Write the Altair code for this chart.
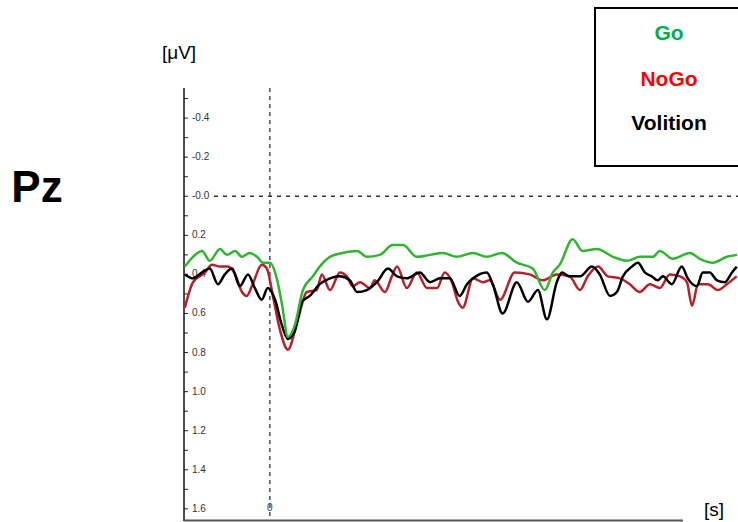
import altair as alt
import pandas as pd

series = ["Go", "NoGo", "Volition"]
line_colors = ["#2fb52f", "#b8202a", "#000000"]
legend_colors = ["#00b050", "#ff0000", "#000000"]

# time in ms, amplitude in microvolts (axis inverted: negative up)
go_t = [-198, -179, -158, -140, -116, -100, -81, -65, -47, -30,
        -16, 0, 16, 28, 42, 58, 77, 100, 116, 140,
        170, 203, 226, 256, 286, 310, 342, 373, 403, 435,
        473, 505, 540, 575, 612, 640, 659, 675, 705, 728,
        761, 799, 831, 862, 892, 908, 938, 978, 1001, 1031,
        1064, 1088]
go_v = [0.36, 0.31, 0.28, 0.33, 0.27, 0.30, 0.28, 0.31, 0.29, 0.31,
        0.34, 0.34, 0.42, 0.55, 0.72, 0.66, 0.48, 0.41, 0.36, 0.31,
        0.29, 0.28, 0.31, 0.30, 0.25, 0.25, 0.31, 0.30, 0.29, 0.31,
        0.29, 0.31, 0.29, 0.34, 0.37, 0.48, 0.39, 0.35, 0.22, 0.28,
        0.27, 0.31, 0.33, 0.31, 0.31, 0.28, 0.32, 0.29, 0.32, 0.34,
        0.31, 0.30]

nogo_t = [-198, -179, -151, -135, -116, -98, -81, -65, -54, -40,
          -19, -7, 7, 23, 42, 63, 86, 109, 121, 140,
          163, 179, 193, 210, 233, 244, 268, 284, 296, 319,
          342, 366, 389, 407, 424, 438, 449, 473, 496, 512,
          536, 570, 605, 636, 668, 698, 722, 740, 764, 787,
          815, 838, 861, 885, 908, 931, 955, 971, 983, 997,
          1020, 1043, 1064, 1087]
nogo_v = [0.57, 0.44, 0.39, 0.35, 0.36, 0.36, 0.40, 0.49, 0.51, 0.45,
          0.35, 0.37, 0.51, 0.68, 0.785, 0.65, 0.49, 0.48, 0.40, 0.48,
          0.39, 0.41, 0.46, 0.44, 0.47, 0.43, 0.49, 0.41, 0.36, 0.47,
          0.39, 0.47, 0.47, 0.39, 0.44, 0.54, 0.57, 0.42, 0.44, 0.43,
          0.53, 0.39, 0.40, 0.43, 0.40, 0.41, 0.48, 0.41, 0.36, 0.41,
          0.42, 0.45, 0.49, 0.45, 0.47, 0.40, 0.41, 0.44, 0.56, 0.45,
          0.45, 0.48, 0.45, 0.41]

vol_t = [-198, -179, -158, -140, -121, -105, -88, -70, -51, -35,
         -19, -5, 12, 28, 42, 58, 75, 93, 116, 140,
         163, 186, 203, 226, 249, 275, 296, 319, 349, 373,
         396, 419, 442, 459, 473, 505, 519, 542, 575, 601,
         624, 645, 668, 680, 698, 722, 750, 768, 792, 808,
         822, 843, 857, 873, 889, 903, 915, 936, 959, 973,
         994, 1008, 1024, 1041, 1059, 1076, 1087]
vol_v = [0.40, 0.42, 0.39, 0.37, 0.45, 0.40, 0.37, 0.46, 0.40, 0.47,
         0.53, 0.47, 0.53, 0.66, 0.73, 0.69, 0.54, 0.51, 0.45, 0.42,
         0.41, 0.43, 0.49, 0.48, 0.44, 0.37, 0.41, 0.42, 0.39, 0.44,
         0.42, 0.42, 0.51, 0.45, 0.42, 0.39, 0.45, 0.60, 0.44, 0.54,
         0.48, 0.63, 0.44, 0.39, 0.41, 0.41, 0.36, 0.40, 0.51, 0.49,
         0.41, 0.36, 0.34, 0.39, 0.41, 0.43, 0.41, 0.45, 0.36, 0.42,
         0.46, 0.39, 0.39, 0.43, 0.44, 0.39, 0.36]

tick_vals = [-0.5, -0.4, -0.3, -0.2, -0.1, 0.0, 0.1, 0.2, 0.3, 0.4, 0.5, 0.6,
             0.7, 0.8, 0.9, 1.0, 1.1, 1.2, 1.3, 1.4, 1.5, 1.6]
label_vals = [-0.4, -0.2, 0.0, 0.2, 0.4, 0.6, 0.8, 1.0, 1.2, 1.4, 1.6]
label_texts = ["-0.4", "-0.2", "-0.0", "0.2", "0.4", "0.6", "0.8", "1.0", "1.2", "1.4", "1.6"]

rows = []
for name, ts, vs in [("NoGo", nogo_t, nogo_v), ("Volition", vol_t, vol_v), ("Go", go_t, go_v)]:
    for t, v in zip(ts, vs):
        rows.append({"series": name, "t": t, "v": v})
df = pd.DataFrame(rows)

W, H = 554, 433
xs = alt.Scale(domain=[-200, 1090], nice=False, zero=False)
ys = alt.Scale(domain=[-0.554, 1.662], reverse=True, nice=False, zero=False)
one = pd.DataFrame({"t": [0], "v": [0.0]})

lines = alt.Chart(df).mark_line(strokeWidth=2.5, interpolate="monotone").encode(
    x=alt.X("t:Q", scale=xs, axis=None),
    y=alt.Y("v:Q", scale=ys, axis=None),
    color=alt.Color("series:N", scale=alt.Scale(domain=series, range=line_colors), legend=None),
    order=alt.Order("t:Q"),
)

ticks = alt.Chart(pd.DataFrame({"v": tick_vals})).mark_rule(color="#222", strokeWidth=1).encode(
    y=alt.Y("v:Q", scale=ys, axis=None), x=alt.value(0), x2=alt.value(4)
)
tick_labels = alt.Chart(pd.DataFrame({"v": label_vals, "label": label_texts})).mark_text(
    align="left", baseline="middle", fontSize=10, font="Liberation Sans Narrow, Liberation Sans",
    color="#333"
).encode(y=alt.Y("v:Q", scale=ys, axis=None), x=alt.value(8), text="label:N")

zero_h = alt.Chart(one).mark_rule(color="#333", strokeWidth=1.3, strokeDash=[4, 5]).encode(
    y=alt.Y("v:Q", scale=ys, axis=None), x=alt.value(30), x2=alt.value(W)
)
zero_v = alt.Chart(one).mark_rule(color="#333", strokeWidth=1.3, strokeDash=[4, 4]).encode(
    x=alt.X("t:Q", scale=xs, axis=None), y=alt.value(0), y2=alt.value(H)
)
y_axis_line = alt.Chart(one).mark_rule(color="#111", strokeWidth=1.5).encode(
    x=alt.value(0), y=alt.value(0), y2=alt.value(H)
)
x_axis_line = alt.Chart(one).mark_rule(color="#555", strokeWidth=2).encode(
    y=alt.value(H - 0.5), x=alt.value(0), x2=alt.value(499)
)
zero_label = alt.Chart(one).mark_text(fontSize=10, font="Liberation Sans", color="#333",
                                      baseline="middle").encode(
    x=alt.X("t:Q", scale=xs, axis=None), y=alt.value(420), text=alt.value("0")
)

pz = alt.Chart(one).mark_text(fontSize=44, fontWeight="bold", font="Liberation Sans",
                              align="center", baseline="alphabetic", color="#000").encode(
    x=alt.value(-147), y=alt.value(114), text=alt.value("Pz"))
uv = alt.Chart(one).mark_text(fontSize=19, font="Liberation Sans", align="center",
                              baseline="alphabetic", color="#000").encode(
    x=alt.value(-5), y=alt.value(-29), text=alt.value("[μV]"))
sec = alt.Chart(one).mark_text(fontSize=19, font="Liberation Sans", align="center",
                               baseline="alphabetic", color="#000").encode(
    x=alt.value(530), y=alt.value(428), text=alt.value("[s]"))

box = alt.Chart(one).mark_rect(fill="white", stroke="black", strokeWidth=2).encode(
    x=alt.value(411), x2=alt.value(575), y=alt.value(-80), y2=alt.value(78))
leg_y = [-48.5, -2.5, 41.5]
legend_texts = []
for name, col, yy in zip(series, legend_colors, leg_y):
    legend_texts.append(alt.Chart(one).mark_text(
        fontSize=21, fontWeight="bold", font="Liberation Sans", align="center",
        baseline="alphabetic", color=col).encode(
        x=alt.value(485), y=alt.value(yy), text=alt.value(name)))

chart = alt.layer(
    zero_h, zero_v, tick_labels, ticks, y_axis_line, x_axis_line, zero_label,
    lines, pz, uv, sec, box, *legend_texts
).properties(
    width=W, height=H,
    padding={"left": 184, "top": 88, "right": 0, "bottom": 1},
    autosize=alt.AutoSizeParams(type="none"),
    background="white",
).configure_view(strokeWidth=0)

chart.save("out.html", embed_options={"renderer": "svg", "actions": False})
